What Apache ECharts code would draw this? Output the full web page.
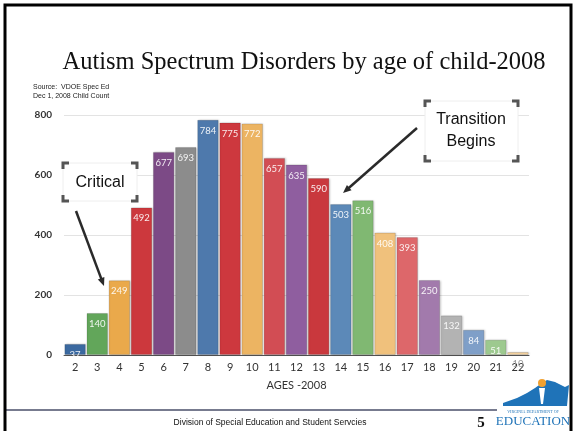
<!DOCTYPE html>
<html><head><meta charset="utf-8">
<script src="https://cdn.jsdelivr.net/npm/echarts@6/dist/echarts.min.js"></script>
<style>html,body{margin:0;padding:0;background:#fff}#c{width:575px;height:431px}</style>
</head><body><div id="c"></div>
<script>
const ages = ['2','3','4','5','6','7','8','9','10','11','12','13','14','15','16','17','18','19','20','21','22'];
const counts = [37,140,249,492,677,693,784,775,772,657,635,590,503,516,408,393,250,132,84,51,10];
const barColors = ['#3b69a0','#62a65a','#eaa94b','#cc383d','#7c4a86','#8c8c8c','#4e79ac','#cd383e','#ecb462','#d24d54','#8f5e9f','#c9383d','#5c89b8','#80b872','#f0c17c','#dd676a','#a27aac','#b3b3b3','#7f9fc8','#9dc98f','#f4d19c'];
const yTicks = [0,200,400,600,800];
const titleText = 'Autism Spectrum Disorders by age of child-2008';
const sourceLines = ['Source:  VDOE Spec Ed','Dec 1, 2008 Child Count'];
const axisName = 'AGES -2008';
const footerText = 'Division of Special Education and Student Servcies';
const pageNum = '5';

const chart = echarts.init(document.getElementById('c'));
const corner = (x,y,dx,dy)=>({type:'polyline',shape:{points:[[x,y+dy],[x,y],[x+dx,y]]},style:{stroke:'#555',lineWidth:3,fill:null},z:10});
function bracketBox(x1,y1,x2,y2){
  const s=6;
  return [
    {type:'rect',shape:{x:x1,y:y1,width:x2-x1,height:y2-y1},style:{fill:'#fff',stroke:'#eeeeee',lineWidth:1},z:9},
    corner(x1,y1,s,s),corner(x2,y1,-s,s),corner(x1,y2,s,-s),corner(x2,y2,-s,-s)
  ];
}
function arrow(x1,y1,x2,y2){
  const a=Math.atan2(y2-y1,x2-x1), L=9, w=0.4;
  return [
    {type:'line',shape:{x1:x1,y1:y1,x2:x2-Math.cos(a)*5,y2:y2-Math.sin(a)*5},style:{stroke:'#2a2a2a',lineWidth:2.5},z:10},
    {type:'polygon',shape:{points:[[x2,y2],[x2-L*Math.cos(a-w),y2-L*Math.sin(a-w)],[x2-L*Math.cos(a+w),y2-L*Math.sin(a+w)]]},style:{fill:'#2a2a2a'},z:10}
  ];
}
const graphics = [
  {type:'rect',shape:{x:5,y:5,width:566,height:440},style:{fill:null,stroke:'#000',lineWidth:3},z:20},
  {type:'text',x:304,y:63,style:{text:titleText,font:'24.5px "Liberation Serif"',fill:'#111',align:'center',verticalAlign:'middle'}},
  {type:'text',x:33,y:87,style:{text:sourceLines[0],font:'7px "Liberation Sans"',fill:'#222',verticalAlign:'middle'}},
  {type:'text',x:33,y:96,style:{text:sourceLines[1],font:'7px "Liberation Sans"',fill:'#222',verticalAlign:'middle'}},
  ...bracketBox(63,163,137,201),
  {type:'text',x:100,y:183,style:{text:'Critical',font:'16px "Liberation Sans"',fill:'#111',align:'center',verticalAlign:'middle'},z:11},
  ...arrow(76,211,104,286),
  ...bracketBox(425,101,518,161),
  {type:'text',x:471,y:131,style:{text:'Transition\nBegins',font:'16px "Liberation Sans"',lineHeight:22,fill:'#111',align:'center',verticalAlign:'middle'},z:11},
  ...arrow(417,128,343,193),
  {type:'line',shape:{x1:6,y1:410,x2:497,y2:410},style:{stroke:'#4a4f6a',lineWidth:1.5}},
  {type:'text',x:270,y:423,style:{text:footerText,font:'8.5px "Liberation Sans"',fill:'#111',align:'center',verticalAlign:'middle'}},
  {type:'text',x:481,y:423,style:{text:pageNum,font:'bold 15px "Liberation Serif"',fill:'#111',align:'center',verticalAlign:'middle'}},
  {type:'polygon',shape:{points:[[503,403],[517,398],[527,393],[535,388],[542,383],[547,380],[555,382],[565,387],[569,385],[567,406],[503,406]]},style:{fill:'#1f73b8'}},
  {type:'polygon',shape:{points:[[539,388],[545,388],[543,404],[541,404]]},style:{fill:'#ffffff'}},
  {type:'circle',shape:{cx:542,cy:383,r:4},style:{fill:'#f0a030'}},
  {type:'text',x:533,y:412,style:{text:'VIRGINIA DEPARTMENT OF',font:'4px "Liberation Serif"',fill:'#1f73b8',align:'center',verticalAlign:'middle'}},
  {type:'text',x:533,y:422,style:{text:'EDUCATION',font:'13px "Liberation Serif"',fill:'#1f73b8',align:'center',verticalAlign:'middle'}}
];

chart.setOption({
  animation:false,
  backgroundColor:'#fff',
  grid:{left:64,right:46,top:115,bottom:76,containLabel:false},
  xAxis:{type:'category',data:ages,
    axisLine:{lineStyle:{color:'#555',width:1}},axisTick:{show:false},
    axisLabel:{color:'#333',fontSize:11,fontFamily:'Lato',margin:7,interval:0},
    name:axisName,nameLocation:'middle',nameGap:25,
    nameTextStyle:{color:'#333',fontSize:11,fontFamily:'Lato'}},
  yAxis:{type:'value',min:yTicks[0],max:yTicks[yTicks.length-1],interval:200,
    axisLine:{show:false},axisTick:{show:false},
    axisLabel:{color:'#333',fontSize:10,fontFamily:'Lato',fontWeight:'bold',margin:12},
    splitLine:{lineStyle:{color:'#e3e3e3',width:1}}},
  series:[{type:'bar',barCategoryGap:'3%',
    data:counts.map((v,i)=>({value:v,itemStyle:{color:barColors[i]},
      label:i===counts.length-1?{color:'#999',position:'insideTop',offset:[0,2]}:{}})),
    itemStyle:{borderColor:'rgba(0,0,0,0.12)',borderWidth:1,shadowColor:'rgba(0,0,0,0.2)',shadowBlur:2,shadowOffsetX:1},
    label:{show:true,position:'insideTop',color:'rgba(255,255,255,0.9)',fontSize:9.5,fontFamily:'Lato',offset:[0,1]}
  }],
  graphic:graphics
});
</script></body></html>
